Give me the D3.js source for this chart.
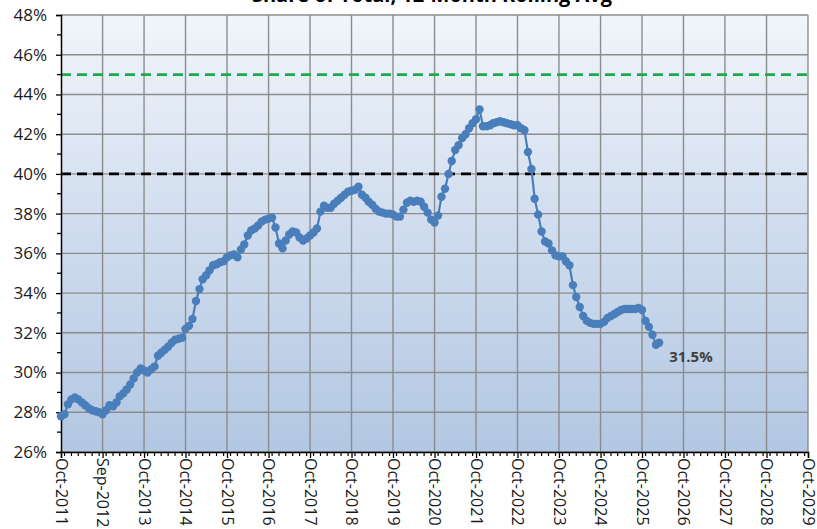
<!DOCTYPE html>
<html>
<head>
<meta charset="utf-8">
<script src="https://cdn.jsdelivr.net/npm/d3@7"></script>
<style>
  body { margin: 0; background: #fff; }
  svg { display: block; }
</style>
</head>
<body>
<script>
// Dimensions
const width = 817;
const height = 529;
const margin = { top: 15, right: 9, bottom: 77, left: 61 };
const plotW = width - margin.left - margin.right;
const plotH = height - margin.top - margin.bottom;

// data : monthly values (%) starting Oct-2011
const startMonth = new Date(2011, 9, 1);
const values = [
  27.8, 27.9, 28.4, 28.65, 28.75, 28.65, 28.5, 28.35, 28.2, 28.1, 28.05, 28.0,
  27.9, 28.1, 28.35, 28.3, 28.5, 28.8, 28.95, 29.15, 29.4, 29.7, 30.0, 30.2,
  30.1, 30.0, 30.15, 30.3, 30.85, 31.0, 31.15, 31.3, 31.5, 31.65, 31.7, 31.75,
  32.2, 32.35, 32.7, 33.6, 34.2, 34.7, 34.9, 35.15, 35.4, 35.45, 35.55, 35.6,
  35.8, 35.9, 35.95, 35.8, 36.2, 36.45, 36.9, 37.15, 37.25, 37.4, 37.6, 37.7,
  37.75, 37.8, 37.3, 36.5, 36.25, 36.65, 36.95, 37.1, 37.05, 36.8, 36.65, 36.75,
  36.9, 37.05, 37.25, 38.1, 38.4, 38.3, 38.3, 38.5, 38.65, 38.8, 38.95, 39.1,
  39.15, 39.2, 39.35, 38.95, 38.8, 38.6, 38.45, 38.25, 38.1, 38.05, 38.0, 38.0,
  37.95, 37.85, 37.85, 38.2, 38.55, 38.65, 38.6, 38.65, 38.6, 38.35, 38.05, 37.7,
  37.55, 37.9, 38.85, 39.25, 40.0, 40.65, 41.2, 41.45, 41.8, 42.0, 42.3, 42.55,
  42.75, 43.25, 42.4, 42.4, 42.45, 42.55, 42.6, 42.65, 42.6, 42.55, 42.5, 42.45,
  42.45, 42.3, 42.2, 41.1, 40.25, 38.75, 37.95, 37.1, 36.6, 36.5, 36.15, 35.9,
  35.85, 35.85, 35.6, 35.4, 34.4, 33.8, 33.3, 32.85, 32.6, 32.5, 32.45, 32.45,
  32.45, 32.55, 32.75, 32.85, 32.95, 33.05, 33.15, 33.2, 33.2, 33.2, 33.2, 33.25,
  33.15, 32.6, 32.3, 31.9, 31.4, 31.5
];
const lastLabel = "31.5%";

// reference lines
const refLevels = [45, 40];
const refColors = ["#1aad4b", "#000000"];

// axes
const yTicks = [26, 28, 30, 32, 34, 36, 38, 40, 42, 44, 46, 48];
const xTickLabels = ["Oct-2011", "Sep-2012", "Oct-2013", "Oct-2014", "Oct-2015", "Oct-2016",
  "Oct-2017", "Oct-2018", "Oct-2019", "Oct-2020", "Oct-2021", "Oct-2022", "Oct-2023",
  "Oct-2024", "Oct-2025", "Oct-2026", "Oct-2027", "Oct-2028", "Oct-2029"];
const title = "Share of Total, 12-Month Rolling Avg";

const data = values.map((v, i) => ({ date: d3.timeMonth.offset(startMonth, i), value: v }));
const xTickDates = xTickLabels.map((d, i) => new Date(2011 + i, 9, 1));

const svg = d3.select("body").append("svg")
  .attr("width", width)
  .attr("height", height);

const defs = svg.append("defs");
const grad = defs.append("linearGradient")
  .attr("id", "bg").attr("x1", 0).attr("y1", 0).attr("x2", 0).attr("y2", 1);
grad.append("stop").attr("offset", "0%").attr("stop-color", "#f1f5fb");
grad.append("stop").attr("offset", "50%").attr("stop-color", "#cfdcee");
grad.append("stop").attr("offset", "100%").attr("stop-color", "#b2c7e2");

// titre (coupé en haut)
svg.append("text")
  .attr("x", 612)
  .attr("y", 2)
  .attr("text-anchor", "end")
  .style("font-family", "'Open Sans', sans-serif")
  .style("font-weight", "bold")
  .style("font-size", "20px")
  .style("fill", "#000")
  .text(title);

const g = svg.append("g")
  .attr("transform", `translate(${margin.left},${margin.top})`);

const x = d3.scaleTime()
  .domain([xTickDates[0], xTickDates[xTickDates.length - 1]])
  .range([0, plotW]);
const y = d3.scaleLinear().domain([26, 48]).range([plotH, 0]);

g.append("rect")
  .attr("width", plotW).attr("height", plotH)
  .attr("fill", "url(#bg)");

// grille
g.append("g").selectAll("line")
  .data(yTicks)
  .join("line")
  .attr("x1", 0).attr("x2", plotW)
  .attr("y1", d => y(d)).attr("y2", d => y(d))
  .attr("stroke", "#8c8c8c").attr("stroke-width", 1.4);

g.append("g").selectAll("line")
  .data(xTickDates.slice(1))
  .join("line")
  .attr("x1", d => x(d)).attr("x2", d => x(d))
  .attr("y1", 0).attr("y2", plotH)
  .attr("stroke", "#8c8c8c").attr("stroke-width", 1.4);

// lignes de référence
refLevels.forEach((lv, i) => {
  g.append("line")
    .attr("x1", 0).attr("x2", plotW)
    .attr("y1", y(lv)).attr("y2", y(lv))
    .attr("stroke", refColors[i])
    .attr("stroke-width", 2.6)
    .attr("stroke-dasharray", "10,6");
});

// axe Y
const yAxis = d3.axisLeft(y).tickValues(yTicks).tickSize(5).tickFormat(d => d + "%");
const yAx = g.append("g").call(yAxis);
yAx.select(".domain").attr("stroke", "#000").attr("stroke-width", 1.5);
yAx.selectAll(".tick line").attr("stroke", "#000").attr("stroke-width", 1.3);
yAx.selectAll("text")
  .attr("x", -14)
  .style("font-family", "'Open Sans', sans-serif")
  .style("font-size", "17px")
  .style("fill", "#1a1a1a");

const yMinor = d3.range(27, 48, 2);
g.append("g").selectAll("line")
  .data(yMinor)
  .join("line")
  .attr("x1", -4).attr("x2", 0)
  .attr("y1", d => y(d)).attr("y2", d => y(d))
  .attr("stroke", "#000").attr("stroke-width", 1.3);

// axe X
const xAxis = d3.axisBottom(x).tickValues(xTickDates).tickSize(6)
  .tickFormat((d, i) => xTickLabels[i]);
const xAx = g.append("g").attr("transform", `translate(0,${plotH})`).call(xAxis);
xAx.select(".domain").attr("stroke", "#000").attr("stroke-width", 1.5);
xAx.selectAll(".tick line").attr("stroke", "#000").attr("stroke-width", 1.3);
xAx.selectAll("text")
  .attr("transform", "rotate(90)")
  .attr("x", 6).attr("y", 0).attr("dy", "0.35em")
  .attr("text-anchor", "start")
  .style("font-family", "'Open Sans', sans-serif")
  .style("font-size", "16px")
  .style("fill", "#1a1a1a");

const xMinor = d3.timeMonth.every(2).range(xTickDates[0], xTickDates[xTickDates.length - 1]);
g.append("g").selectAll("line")
  .data(xMinor.filter(d => d.getMonth() !== 9))
  .join("line")
  .attr("x1", d => x(d)).attr("x2", d => x(d))
  .attr("y1", plotH).attr("y2", plotH + 4)
  .attr("stroke", "#000").attr("stroke-width", 1.2);

// série
const line = d3.line().x(d => x(d.date)).y(d => y(d.value));
g.append("path")
  .datum(data)
  .attr("d", line)
  .attr("fill", "none")
  .attr("stroke", "#4a7ebb")
  .attr("stroke-width", 2.2);

g.append("g").selectAll("circle")
  .data(data)
  .join("circle")
  .attr("cx", d => x(d.date))
  .attr("cy", d => y(d.value))
  .attr("r", 4.2)
  .attr("fill", "#4a7ebb");

// étiquette dernière valeur
const last = data[data.length - 1];
g.append("text")
  .attr("x", x(last.date) + 10)
  .attr("y", y(last.value) + 19)
  .style("font-family", "'Open Sans', sans-serif")
  .style("font-size", "15px")
  .style("font-weight", "bold")
  .style("fill", "#404040")
  .text(lastLabel);
</script>
</body>
</html>
